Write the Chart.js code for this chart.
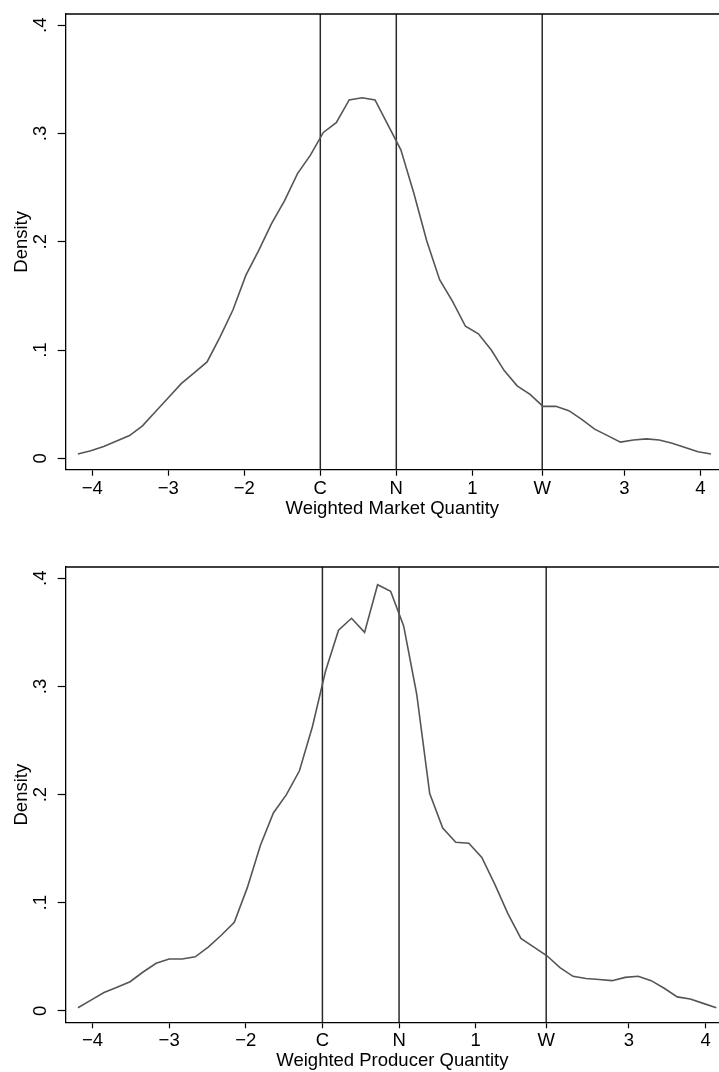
<!DOCTYPE html>
<html>
<head>
<meta charset="utf-8">
<script src="https://cdn.jsdelivr.net/npm/chart.js@4.4.1/dist/chart.umd.min.js"></script>
<style>
  html, body { margin: 0; padding: 0; background: #fff; }
  .box { position: relative; width: 719px; }
  #top { height: 520px; }
  #bottom { height: 552px; }
</style>
</head>
<body>
<div class="box" id="top"><canvas id="marketChart"></canvas></div>
<div class="box" id="bottom"><canvas id="producerChart"></canvas></div>
<script>
// evaluation points of the density estimates
const gridX = [-4.19, -4.02, -3.85, -3.68, -3.51, -3.34, -3.17, -3.00, -2.83, -2.66,
  -2.49, -2.32, -2.15, -1.98, -1.81, -1.64, -1.47, -1.30, -1.13, -0.96,
  -0.79, -0.62, -0.45, -0.28, -0.11, 0.06, 0.23, 0.40, 0.57, 0.74,
  0.91, 1.08, 1.25, 1.42, 1.59, 1.76, 1.93, 2.10, 2.27, 2.44,
  2.61, 2.78, 2.95, 3.12, 3.29, 3.46, 3.63, 3.80, 3.97, 4.14]

const marketDensity = [0.004, 0.007, 0.011, 0.016, 0.021, 0.030, 0.043, 0.056, 0.069, 0.079,
  0.089, 0.112, 0.137, 0.169, 0.192, 0.217, 0.238, 0.263, 0.280, 0.301,
  0.310, 0.331, 0.333, 0.331, 0.308, 0.285, 0.245, 0.201, 0.165, 0.145,
  0.122, 0.115, 0.100, 0.081, 0.067, 0.059, 0.048, 0.048, 0.044, 0.036,
  0.027, 0.021, 0.015, 0.017, 0.018, 0.017, 0.014, 0.010, 0.006, 0.004]

const producerDensity = [0.003, 0.010, 0.017, 0.022, 0.027, 0.036, 0.044, 0.048, 0.048, 0.050,
  0.059, 0.070, 0.082, 0.114, 0.153, 0.183, 0.200, 0.222, 0.263, 0.314,
  0.352, 0.363, 0.350, 0.394, 0.388, 0.356, 0.293, 0.201, 0.169, 0.156,
  0.155, 0.142, 0.117, 0.090, 0.067, 0.059, 0.051, 0.040, 0.032, 0.030,
  0.029, 0.028, 0.031, 0.032, 0.028, 0.021, 0.013, 0.011, 0.007, 0.003]

// C, N and W reference lines
const refLines = [-1, 0, 1.92]

const xTickValues = [-4, -3, -2, -1, 0, 1, 1.92, 3, 4]
const xTickLabels = ['\u22124', '\u22123', '\u22122', 'C', 'N', '1', 'W', '3', '4']
const yTickValues = [0, 0.1, 0.2, 0.3, 0.4]
const yTickLabels = ['0', '.1', '.2', '.3', '.4']

Chart.defaults.font.family = '"Liberation Sans", Arial, sans-serif'
Chart.defaults.color = '#000'

const font = { size: 18.5 }

const topFrame = {
  id: 'topFrame',
  afterDraw(chart) {
    const { ctx, chartArea } = chart
    ctx.save()
    ctx.strokeStyle = '#000'
    ctx.lineWidth = 1.3
    ctx.beginPath()
    ctx.moveTo(chartArea.left, chartArea.top)
    ctx.lineTo(chartArea.right, chartArea.top)
    ctx.stroke()
    ctx.restore()
  }
}

function makeChart(id, density, xTitle, cfg) {
  const lines = refLines.map(v => ({
    data: [{ x: v, y: cfg.yMin }, { x: v, y: cfg.yMax }],
    borderColor: '#2a2a2a',
    borderWidth: 1.5,
    pointRadius: 0,
  }))

  return new Chart(document.getElementById(id), {
    type: 'line',
    data: {
      datasets: [{
        data: gridX.map((x, i) => ({ x: x, y: density[i] })),
        borderColor: '#555',
        borderWidth: 1.6,
        pointRadius: 0,
        tension: 0,
      }, ...lines]
    },
    options: {
      animation: false,
      responsive: true,
      maintainAspectRatio: false,
      layout: { padding: { top: cfg.padTop, left: 0, right: 0, bottom: 0 } },
      plugins: {
        legend: { display: false },
        tooltip: { enabled: false },
      },
      scales: {
        x: {
          type: 'linear',
          min: -4.35,
          max: cfg.xMax,
          border: { color: '#000', width: 1.3 },
          grid: { drawOnChartArea: false, drawTicks: true, tickLength: 6, tickColor: '#000', tickWidth: 1.2 },
          ticks: {
            font: font,
            padding: 2,
            maxRotation: 0,
            autoSkip: false,
            callback: (value, index) => xTickLabels[index],
          },
          afterBuildTicks: scale => { scale.ticks = xTickValues.map(v => ({ value: v })) },
          afterFit: scale => {
            scale.height = cfg.axisH
            scale.paddingLeft = 0
            scale.paddingRight = 0
          },
          title: { display: true, text: xTitle, font: font, padding: { top: 0, bottom: 0 } },
        },
        y: {
          min: cfg.yMin,
          max: cfg.yMax,
          border: { color: '#000', width: 1.3 },
          grid: { drawOnChartArea: false, drawTicks: true, tickLength: 8, tickColor: '#000', tickWidth: 1.2 },
          ticks: {
            font: font,
            padding: 9,
            minRotation: 90,
            maxRotation: 90,
            crossAlign: 'center',
            callback: (value, index) => yTickLabels[index],
          },
          afterBuildTicks: scale => { scale.ticks = yTickValues.map(v => ({ value: v })) },
          afterFit: scale => {
            scale.width = 65.7
            scale.paddingTop = 0
            scale.paddingBottom = 0
          },
          title: { display: true, text: 'Density', font: font, padding: { top: 11, bottom: 0 } },
        },
      },
    },
    plugins: [topFrame],
  })
}

makeChart('marketChart', marketDensity, 'Weighted Market Quantity',
  { xMax: 4.246, yMin: -0.0105, yMax: 0.4104, padTop: 14, axisH: 50.3 })
makeChart('producerChart', producerDensity, 'Weighted Producer Quantity',
  { xMax: 4.175, yMin: -0.0105, yMax: 0.4104, padTop: 47, axisH: 49.7 })
</script>
</body>
</html>
